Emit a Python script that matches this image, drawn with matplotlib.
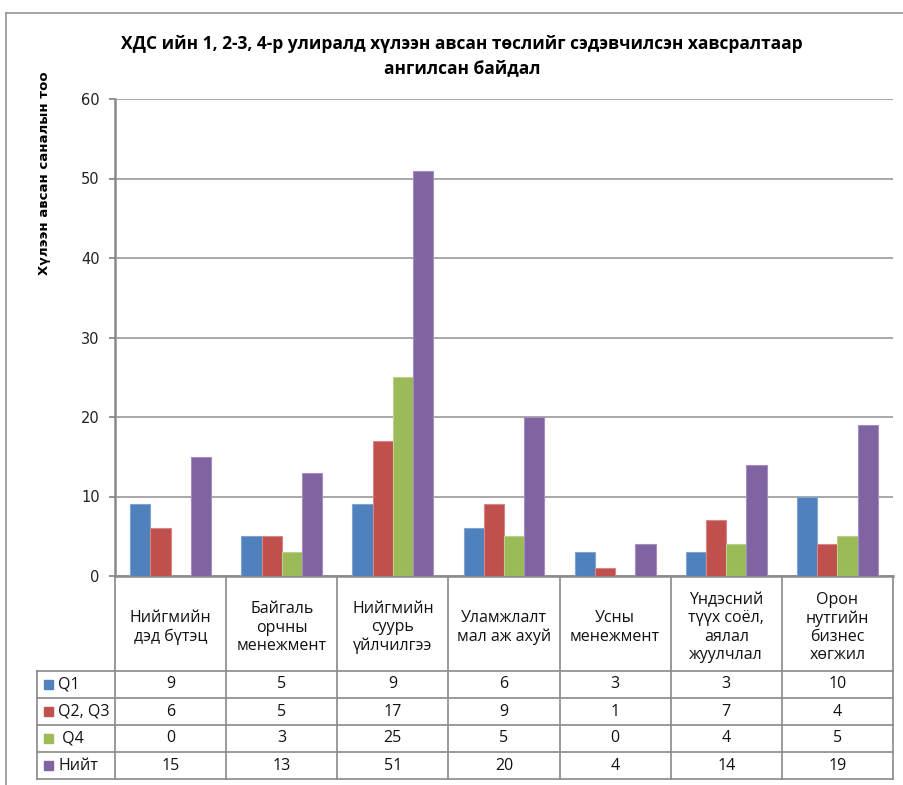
import numpy as np
import matplotlib
matplotlib.use("Agg")
import matplotlib.pyplot as plt
from matplotlib.lines import Line2D
from matplotlib.patches import Rectangle

# Datos
categorias = ["Нийгмийн\nдэд бүтэц", "Байгаль\nорчны\nменежмент", "Нийгмийн\nсуурь\nүйлчилгээ",
              "Уламжлалт\nмал аж ахуй", "Усны\nменежмент", "Үндэсний\nтүүх соёл,\nаялал\nжуулчлал",
              "Орон\nнутгийн\nбизнес\nхөгжил"]
series = ["Q1", "Q2, Q3", " Q4", "Нийт"]
q1 = [9, 5, 9, 6, 3, 3, 10]
q2_q3 = [6, 5, 17, 9, 1, 7, 4]
q4 = [0, 3, 25, 5, 0, 4, 5]
niit = [15, 13, 51, 20, 4, 14, 19]
valores = [q1, q2_q3, q4, niit]
colores = ["#4F81BD", "#C0504D", "#9BBB59", "#8064A2"]
bordes = ["#7FA3D3", "#D98583", "#B9D18A", "#A58DC0"]

titulo = "ХДС ийн 1, 2-3, 4-р улиралд хүлээн авсан төслийг сэдэвчилсэн хавсралтаар\nангилсан байдал"
etiqueta_y = "Хүлээн авсан саналын тоо"

W, H = 904, 785
GRIS = "#8E8888"
FUENTE = "Open Sans"

fig = plt.figure(figsize=(W / 100, H / 100), dpi=100)


def fx(px):
    return px / W


def fy(py):
    return 1 - py / H


# marco exterior
fig.add_artist(Line2D([fx(6), fx(6)], [fy(13), fy(H)], color="#9A9494", lw=1.2))
fig.add_artist(Line2D([fx(6), fx(W)], [fy(13), fy(13)], color="#9A9494", lw=1.2))

# area de graficos
x_izq, x_der, y_sup, y_inf = 115, 893, 99, 576
ax = fig.add_axes([fx(x_izq), fy(y_inf), fx(x_der - x_izq), (y_inf - y_sup) / H])

n = len(categorias)
ancho = 1 / 5.5
centros = np.arange(n) + 0.5
for i, (vals, c, b) in enumerate(zip(valores, colores, bordes)):
    ax.bar(centros + (i - 1.5) * ancho, vals, width=ancho, color=c,
           edgecolor=b, linewidth=0.8, zorder=3)

ax.set_xlim(0, n)
ax.set_ylim(0, 60)
ax.set_yticks(range(0, 61, 10))
ax.set_xticks([])
ax.grid(axis="y", color="#A6A0A0", linewidth=1.3, zorder=0)
for lado in ["top", "right"]:
    ax.spines[lado].set_visible(False)
for lado in ["left", "bottom"]:
    ax.spines[lado].set_color(GRIS)
    ax.spines[lado].set_linewidth(1.8)
ax.tick_params(axis="y", length=4, width=1.3, color=GRIS, pad=7,
               labelsize=10.5, labelcolor="#222222")
ax.set_ylabel(etiqueta_y, fontsize=9.5, fontweight="bold", family="DejaVu Sans")
ax.yaxis.set_label_coords((51 - x_izq) / (x_der - x_izq), (y_inf - 173) / (y_inf - y_sup))

fig.text(fx(462), fy(56), titulo, ha="center", va="center", fontsize=12.5,
         fontweight="bold", family=FUENTE, linespacing=1.4)

# tabla de datos
t_izq = 37
filas_y = [576, 671, 698, 725, 752, 779]
tab = fig.add_axes([fx(t_izq), fy(filas_y[-1]), fx(x_der - t_izq), (filas_y[-1] - filas_y[0]) / H])
col_izq = -(x_izq - t_izq) / ((x_der - x_izq) / n)
tab.set_xlim(col_izq, n)
tab.set_ylim(filas_y[-1], filas_y[0])
tab.axis("off")

for k in range(n + 1):
    tab.plot([k, k], [filas_y[0], filas_y[-1]], color=GRIS, lw=1.2, clip_on=False)
tab.plot([col_izq, col_izq], [filas_y[1], filas_y[-1]], color=GRIS, lw=1.2, clip_on=False)
for yy in filas_y[1:]:
    tab.plot([col_izq, n], [yy, yy], color=GRIS, lw=1.2, clip_on=False)

for k, cat in enumerate(categorias):
    tab.text(k + 0.5, (filas_y[0] + filas_y[1]) / 2 + 4, cat, ha="center", va="center",
             fontsize=11.5, family=FUENTE, linespacing=1.17, color="#111111")

for r, (nombre, vals, c) in enumerate(zip(series, valores, colores)):
    ym = (filas_y[r + 1] + filas_y[r + 2]) / 2
    tab.add_patch(Rectangle((col_izq + 0.065, ym - 4.5), 0.08, 9, color=c, clip_on=False))
    tab.text(col_izq + 0.19, ym, nombre, ha="left", va="center", fontsize=11.5,
             family=FUENTE, color="#111111")
    for k, v in enumerate(vals):
        tab.text(k + 0.5, ym, str(v), ha="center", va="center", fontsize=11.5,
                 family=FUENTE, color="#111111")

fig.savefig("out.png", dpi=100)
